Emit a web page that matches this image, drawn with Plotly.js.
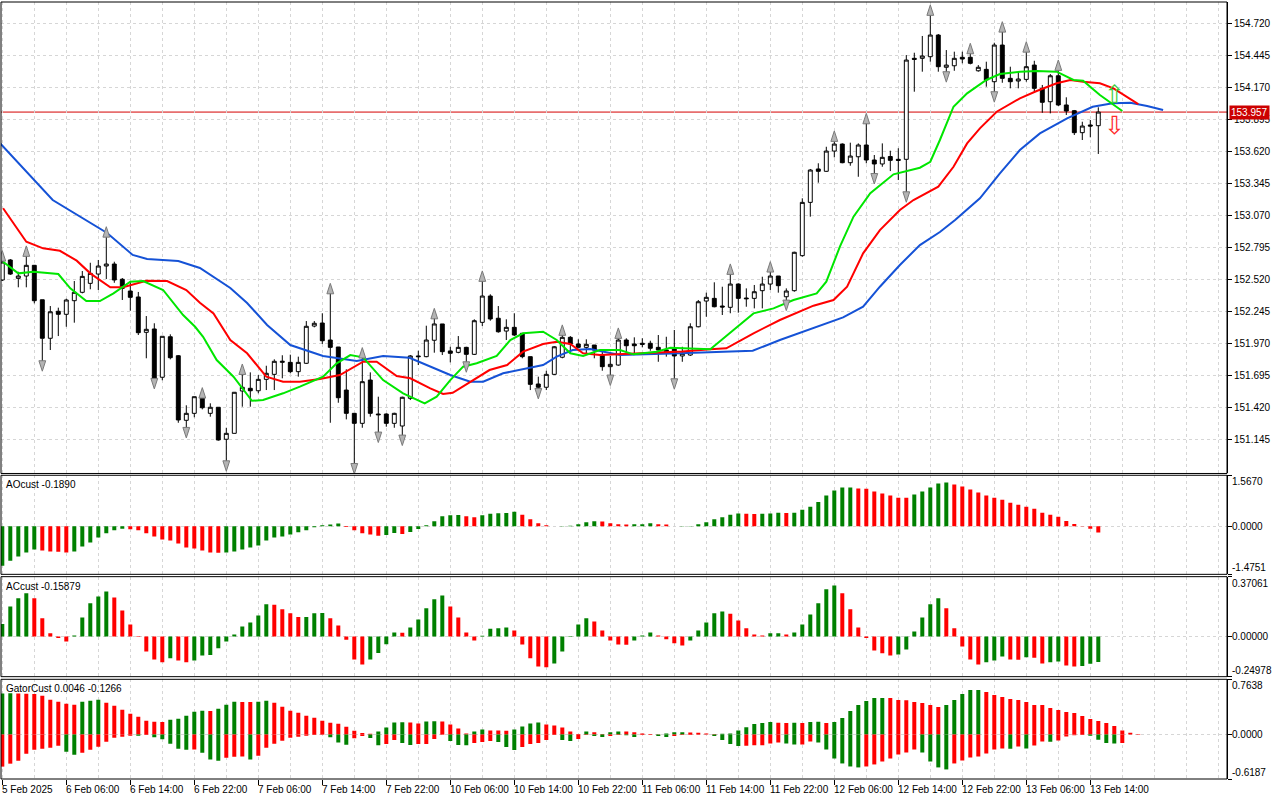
<!DOCTYPE html>
<html><head><meta charset="utf-8">
<script src="https://cdn.plot.ly/plotly-3.0.1.min.js"></script>
<style>html,body{margin:0;padding:0;background:#fff;}#chart{width:1280px;height:800px;}</style>
</head><body><div id="chart"></div>
<script>
// ---- candles (H1 bars, index 0 = 5 Feb 22:00) ----
const openP = [152.514,152.686,152.528,152.548,152.640,152.344,152.013,152.245,152.219,152.336,
152.408,152.485,152.565,152.634,152.651,152.520,152.419,152.368,152.064,152.093,
151.678,152.026,151.863,151.308,151.368,151.511,151.368,151.420,151.145,151.196,
151.560,151.583,151.562,151.660,151.703,151.806,151.806,151.726,151.798,152.118,
152.144,151.998,151.938,151.568,151.368,151.282,151.654,151.362,151.362,151.282,
151.259,151.497,151.861,151.855,151.996,152.136,151.904,151.892,151.935,151.875,
152.150,152.376,152.185,152.075,152.107,152.056,151.855,151.620,151.592,151.703,
151.850,152.021,151.964,151.935,151.955,151.869,151.769,151.783,151.998,151.964,
151.970,151.970,151.935,151.912,151.927,151.861,151.869,152.112,152.333,152.356,
152.290,152.279,152.479,152.359,152.356,152.422,152.479,152.548,152.370,152.422,
152.723,153.181,153.468,153.448,153.622,153.682,153.522,153.573,153.674,153.545,
153.511,153.575,153.551,153.551,154.419,154.419,154.433,154.619,154.342,154.355,
154.428,154.428,154.312,154.324,154.218,154.533,154.247,154.224,154.238,154.361,
154.161,154.046,154.269,154.018,153.969,153.780,153.846,153.840];
const highP = [152.694,152.694,152.585,152.735,152.643,152.344,152.290,152.276,152.353,152.505,
152.591,152.662,152.686,152.900,152.671,152.531,152.499,152.411,152.204,152.142,
152.030,152.047,151.869,151.437,151.511,151.517,151.454,151.420,151.244,151.551,
151.720,151.720,151.697,151.777,151.832,151.867,151.872,151.855,152.161,152.161,
152.228,152.413,151.938,151.746,151.368,151.861,151.720,151.511,151.368,151.373,
151.511,151.869,151.906,152.121,152.198,152.136,151.940,152.032,151.940,152.176,
152.520,152.391,152.290,152.176,152.228,152.056,151.855,151.683,151.734,151.946,
152.056,152.032,152.004,152.004,151.955,151.898,151.861,152.030,152.013,152.021,
152.013,151.992,152.041,152.026,152.084,151.940,152.142,152.342,152.405,152.494,
152.456,152.580,152.485,152.442,152.471,152.542,152.600,152.548,152.442,152.757,
153.216,153.468,153.517,153.659,153.723,153.688,153.694,153.688,153.874,153.588,
153.688,153.625,153.646,154.447,154.467,154.611,154.806,154.628,154.490,154.476,
154.476,154.476,154.361,154.390,154.553,154.662,154.347,154.304,154.490,154.398,
154.190,154.284,154.333,154.084,153.975,153.874,153.889,153.998];
const lowP = [152.505,152.557,152.451,152.451,152.313,151.792,151.912,152.032,152.112,152.147,
152.399,152.434,152.428,152.522,152.490,152.342,152.250,152.041,151.841,151.640,
151.652,151.832,151.287,151.219,151.334,151.402,151.339,151.133,150.932,151.196,
151.425,151.425,151.540,151.568,151.568,151.669,151.712,151.683,151.792,152.107,
151.964,151.287,151.459,151.316,150.909,151.244,151.339,151.179,151.253,151.244,
151.153,151.482,151.783,151.850,151.889,151.869,151.806,151.884,151.783,151.869,
152.118,152.164,152.061,151.998,152.032,151.841,151.568,151.554,151.568,151.697,
151.841,151.884,151.927,151.884,151.841,151.734,151.669,151.777,151.869,151.869,
151.935,151.906,151.811,151.855,151.637,151.811,151.861,152.107,152.198,152.279,
152.213,152.228,152.233,152.284,152.270,152.270,152.428,152.405,152.313,152.413,
152.714,153.058,153.350,153.444,153.568,153.517,153.496,153.401,153.517,153.401,
153.487,153.450,153.373,153.244,154.132,154.304,154.390,154.304,154.276,154.312,
154.376,154.367,154.304,154.175,154.104,154.209,154.161,154.161,154.218,154.132,
153.951,153.946,154.009,153.932,153.760,153.717,153.740,153.597];
const closeP = [152.668,152.565,152.548,152.640,152.336,152.013,152.241,152.219,152.342,152.408,
152.545,152.571,152.634,152.651,152.514,152.442,152.365,152.061,152.090,151.663,
152.030,151.846,151.311,151.368,151.511,151.416,151.420,151.139,151.196,151.549,
151.592,151.562,151.660,151.712,151.815,151.815,151.726,151.806,152.116,152.142,
151.992,151.935,151.502,151.368,151.282,151.640,151.368,151.356,151.282,151.368,
151.506,151.861,151.855,151.998,152.136,151.898,151.884,151.935,151.875,152.164,
152.376,152.179,152.069,152.107,152.041,151.855,151.617,151.592,151.703,151.940,
152.021,151.964,151.935,151.961,151.912,151.769,151.789,151.998,151.949,151.949,
151.961,151.927,151.912,151.898,151.861,151.884,152.112,152.327,152.365,152.284,
152.282,152.479,152.356,152.353,152.413,152.479,152.548,152.465,152.419,152.752,
153.181,153.459,153.448,153.622,153.682,153.522,153.579,153.674,153.545,153.511,
153.568,153.542,153.542,154.404,154.410,154.439,154.619,154.347,154.361,154.419,
154.413,154.376,154.342,154.233,154.533,154.247,154.218,154.241,154.347,154.161,
154.041,154.269,154.018,153.966,153.780,153.837,153.837,153.957];

// ---- Alligator lines (bar position, price) ----
const jawBar = [-0.3,6.3,13.1,16.3,18.1,22,24.7,28.5,30.6,33.1,36,40.1,44.3,47.6,50.9,53.5,56,58.5,60.1,62.6,65.9,67.6,69.3,71.3,73.5,77.2,84.7,93.8,97.2,101.3,105.1,107.6,109.7,112.2,114.7,117.2,119.1,122.2,124.7,127.2,129.7,133.1,136.3,138.8,141,143.1,145.1];
const jawVal = [153.691,153.201,152.918,152.729,152.694,152.677,152.617,152.445,152.316,152.127,151.955,151.861,151.818,151.861,151.846,151.769,151.697,151.640,151.640,151.712,151.755,151.783,151.855,151.912,151.921,151.869,151.884,151.906,151.998,152.099,152.193,152.284,152.456,152.643,152.814,152.926,153.029,153.216,153.431,153.631,153.774,153.903,154.003,154.032,154.037,154.009,153.975];
const teethBar = [0.1,3,5.1,7.2,9.3,11,13.5,15.1,18,20.6,23,24.7,26.4,28.5,30.6,33,35.1,37.2,39.7,42.2,45.1,46.8,49.3,51,53.5,55.1,56.3,58.5,60.9,63.1,65.1,67.6,69.3,71,72.6,74.7,80.9,85,88.5,90.5,93.9,97.2,101.4,103.9,105.6,107.6,109.7,112.2,113.9,117,118.9,120.6,122.2,124.3,127.2,129.3,131.8,133.5,135.1,137.2,138.9,140.5,142];
const teethVal = [153.130,152.843,152.786,152.765,152.680,152.571,152.451,152.451,152.508,152.505,152.428,152.319,152.227,151.998,151.884,151.683,151.640,151.640,151.663,151.697,151.812,151.812,151.689,151.669,151.583,151.534,151.545,151.640,151.740,151.783,151.898,151.964,151.983,151.964,151.884,151.869,151.886,151.900,151.918,151.927,152.056,152.170,152.293,152.342,152.456,152.743,152.943,153.115,153.201,153.316,153.487,153.688,153.817,153.960,154.075,154.138,154.204,154.233,154.218,154.204,154.161,154.089,154.026];
const lipsBar = [0.1,2,3.9,7,8.5,10.5,12.2,13.9,16,17.6,20.1,22.6,24.1,25.1,26.8,28.9,31.2,32.6,35.1,37.2,40.1,41.8,43.5,45.1,47.6,50.1,52.8,54.3,56,57.6,59.3,61.8,63.5,65.1,67.6,69.3,71,72.6,74.7,77.2,78.9,81.8,83.5,86,88.5,91.4,93.9,96.4,98.9,101.8,103,104.7,106.4,108.5,111.4,114.7,116,117.2,118.9,120.6,123,124.7,127.2,129.3,131.8,133.9,135.1,137.2,138.9,140];
const lipsVal = [152.671,152.571,152.585,152.565,152.442,152.333,152.333,152.399,152.499,152.505,152.428,152.213,152.112,152.026,151.826,151.683,151.476,151.482,151.540,151.597,151.683,151.798,151.869,151.849,151.654,151.540,151.454,151.511,151.654,151.769,151.798,151.861,151.998,152.056,152.069,151.998,151.884,151.861,151.912,151.912,151.875,151.898,151.932,151.927,151.918,152.084,152.227,152.270,152.342,152.399,152.499,152.800,153.058,153.259,153.422,153.479,153.530,153.717,154.003,154.118,154.233,154.284,154.304,154.310,154.304,154.233,154.227,154.104,154.018,153.966];

// ---- Fractals (bar indices) ----
const fractalUp = [0,3,13,25,30,41,45,54,60,70,77,91,96,104,108,116,121,125,128,132];
const fractalDown = [5,19,23,28,44,47,50,58,67,76,84,98,109,113,118,124];

// ---- signal arrows ----
const signalBar = [139];
const signalUpPrice = [154.105];
const signalDownPrice = [153.842];
const lastPrice = 153.957;

// ---- AO / AC / Gator ----
const aoVal = [-1.211,-1.055,-0.931,-0.807,-0.714,-0.745,-0.776,-0.780,-0.807,-0.776,
-0.621,-0.497,-0.341,-0.217,-0.124,-0.072,-0.093,-0.124,-0.217,-0.310,
-0.404,-0.435,-0.528,-0.652,-0.683,-0.745,-0.807,-0.812,-0.807,-0.776,
-0.714,-0.652,-0.590,-0.435,-0.341,-0.310,-0.248,-0.186,-0.124,-0.031,
0.031,0.052,0.083,-0.021,-0.124,-0.217,-0.248,-0.290,-0.270,-0.207,
-0.238,-0.176,-0.083,0.031,0.155,0.310,0.341,0.345,0.310,0.279,
0.341,0.383,0.404,0.408,0.445,0.352,0.217,0.093,0.031,0.005,
0.010,0.015,0.062,0.124,0.155,0.150,0.093,0.062,0.058,0.062,
0.066,0.093,0.062,0.058,0.005,0.008,0.012,0.062,0.124,0.217,
0.279,0.352,0.390,0.383,0.380,0.385,0.390,0.414,0.410,0.418,
0.507,0.600,0.745,0.942,1.097,1.190,1.195,1.159,1.155,1.066,
1.004,0.942,0.880,0.876,0.973,1.066,1.190,1.314,1.345,1.283,
1.221,1.128,1.035,0.942,0.880,0.817,0.724,0.662,0.600,0.538,
0.414,0.352,0.290,0.166,0.072,0.010,-0.072,-0.189];
const acVal = [0.077,0.186,0.236,0.267,0.236,0.112,0.019,-0.010,-0.031,0.006,
0.118,0.205,0.248,0.279,0.242,0.161,0.074,-0.004,-0.093,-0.143,
-0.161,-0.136,-0.149,-0.161,-0.149,-0.118,-0.116,-0.074,-0.031,0.012,
0.062,0.087,0.130,0.199,0.197,0.168,0.143,0.120,0.121,0.143,
0.145,0.112,0.068,-0.021,-0.143,-0.174,-0.143,-0.103,-0.048,0.025,
0.023,0.056,0.105,0.174,0.230,0.254,0.186,0.118,0.025,-0.025,
0.004,0.048,0.050,0.056,0.037,-0.050,-0.136,-0.186,-0.192,-0.168,
-0.093,-0.004,0.074,0.112,0.093,0.037,-0.025,-0.050,-0.052,-0.025,
0.006,0.025,0.006,-0.017,-0.043,-0.056,-0.025,0.037,0.087,0.143,
0.155,0.141,0.099,0.050,0.012,0.006,0.019,0.020,0.012,0.025,
0.074,0.136,0.205,0.292,0.316,0.267,0.168,0.056,-0.010,-0.087,
-0.105,-0.118,-0.112,-0.081,0.031,0.118,0.199,0.236,0.174,0.050,
-0.062,-0.143,-0.174,-0.161,-0.149,-0.124,-0.143,-0.145,-0.130,-0.132,
-0.168,-0.161,-0.155,-0.180,-0.186,-0.183,-0.170,-0.159];
const gatorUp = [0.567,0.570,0.566,0.563,0.560,0.535,0.479,0.452,0.424,0.410,
0.452,0.465,0.479,0.438,0.396,0.341,0.286,0.244,0.189,0.175,
0.172,0.203,0.217,0.258,0.313,0.327,0.325,0.355,0.410,0.452,
0.450,0.448,0.451,0.465,0.438,0.382,0.327,0.300,0.258,0.230,
0.189,0.161,0.147,0.106,0.051,0.020,0.010,0.041,0.097,0.166,
0.168,0.164,0.152,0.180,0.182,0.178,0.138,0.083,0.014,0.041,
0.069,0.055,0.053,0.051,0.069,0.111,0.152,0.166,0.138,0.124,
0.097,0.041,0.005,0.041,0.028,0.004,0.028,0.041,0.039,0.028,
0.014,0.005,0.003,0.014,0.028,0.030,0.026,0.024,0.014,0.004,
0.010,0.014,0.055,0.100,0.145,0.159,0.173,0.160,0.157,0.161,
0.159,0.173,0.175,0.159,0.173,0.228,0.325,0.408,0.463,0.504,
0.506,0.504,0.477,0.475,0.449,0.435,0.408,0.380,0.408,0.477,
0.560,0.615,0.617,0.588,0.546,0.518,0.491,0.477,0.449,0.408,
0.406,0.366,0.339,0.311,0.297,0.256,0.214,0.185,0.159,0.115,
0.055,0.023,0.005];
const gatorDown = [-0.447,-0.406,-0.364,-0.267,-0.212,-0.198,-0.184,-0.157,-0.240,-0.281,
-0.253,-0.212,-0.170,-0.101,-0.046,-0.032,-0.018,-0.020,-0.009,-0.041,
-0.069,-0.129,-0.198,-0.212,-0.210,-0.253,-0.350,-0.364,-0.323,-0.309,
-0.307,-0.350,-0.295,-0.184,-0.129,-0.088,-0.046,-0.032,-0.018,-0.009,
-0.005,-0.041,-0.111,-0.143,-0.055,-0.023,-0.051,-0.152,-0.134,-0.078,
-0.120,-0.147,-0.134,-0.132,-0.064,-0.005,-0.092,-0.147,-0.149,-0.120,
-0.106,-0.092,-0.106,-0.175,-0.217,-0.175,-0.134,-0.120,-0.078,-0.009,
-0.078,-0.092,-0.064,-0.009,-0.023,-0.037,-0.023,-0.009,-0.012,-0.037,
-0.009,-0.005,-0.023,-0.037,-0.023,-0.009,-0.007,-0.005,-0.003,-0.023,
-0.078,-0.134,-0.161,-0.156,-0.152,-0.150,-0.127,-0.113,-0.127,-0.141,
-0.139,-0.099,-0.113,-0.210,-0.334,-0.403,-0.445,-0.458,-0.445,-0.417,
-0.376,-0.334,-0.279,-0.251,-0.210,-0.251,-0.376,-0.458,-0.486,-0.403,
-0.362,-0.320,-0.306,-0.265,-0.210,-0.196,-0.198,-0.168,-0.196,-0.154,
-0.099,-0.101,-0.085,-0.030,-0.012,-0.007,-0.020,-0.075,-0.118,-0.127,
-0.120];

// ---- axes ----
const tickBars = [0,8,16,24,32,40,48,56,64,72,80,88,96,104,112,120,128,136];
const tickLabels = ["5 Feb 2025","6 Feb 06:00","6 Feb 14:00","6 Feb 22:00","7 Feb 06:00","7 Feb 14:00","7 Feb 22:00","10 Feb 06:00","10 Feb 14:00","10 Feb 22:00","11 Feb 06:00","11 Feb 14:00","11 Feb 22:00","12 Feb 06:00","12 Feb 14:00","12 Feb 22:00","13 Feb 06:00","13 Feb 14:00"];
const priceTicks = [151.145,151.420,151.695,151.970,152.245,152.520,152.795,153.070,153.345,153.620,153.895,154.170,154.445,154.720];
const aoScale = [-1.4751, 0, 1.5670];
const acScale = [-0.24978, 0, 0.37061];
const gatorScale = [-0.6187, 0, 0.7638];
const aoTitle = "AOcust -0.1890";
const acTitle = "ACcust -0.15879";
const gatorTitle = "GatorCust 0.0046 -0.1266";

// ---- drawing ----
const GREEN = '#008000', RED = '#ff0000', GRID = '#d6d6d6';
const FONT = '"Liberation Sans", Arial, sans-serif';
const DASH = '3px,3px';
const bars = openP.map((_, i) => i);
function dirColors(v, first, useMag) {
  return v.map((x, i) => {
    if (i === 0) return first;
    const a = useMag ? Math.abs(x) : x, b = useMag ? Math.abs(v[i-1]) : v[i-1];
    return a > b ? GREEN : RED;
  });
}
const idx = arr => arr.map((_, i) => i);

const traces = [
  {type:'candlestick', x:bars, open:openP, high:highP, low:lowP, close:closeP,
   xaxis:'x', yaxis:'y', whiskerwidth:0, hoverinfo:'skip',
   increasing:{line:{color:'#000', width:1}, fillcolor:'#ffffff'},
   decreasing:{line:{color:'#000', width:1}, fillcolor:'#000000'}},
  {type:'scatter', mode:'lines', x:jawBar, y:jawVal, line:{color:'#1552d6', width:2}, xaxis:'x', yaxis:'y', hoverinfo:'skip'},
  {type:'scatter', mode:'lines', x:teethBar, y:teethVal, line:{color:'#ff0000', width:2}, xaxis:'x', yaxis:'y', hoverinfo:'skip'},
  {type:'scatter', mode:'lines', x:lipsBar, y:lipsVal, line:{color:'#00e600', width:2}, xaxis:'x', yaxis:'y', hoverinfo:'skip'},
  {type:'scatter', mode:'markers', x:fractalUp, y:fractalUp.map(i => highP[i] + 0.072),
   marker:{symbol:'arrow', angle:0, size:11, color:'#b4b4b4', line:{color:'#7a7a7a', width:1}}, xaxis:'x', yaxis:'y', hoverinfo:'skip'},
  {type:'scatter', mode:'markers', x:fractalDown, y:fractalDown.map(i => lowP[i] - 0.062),
   marker:{symbol:'arrow', angle:180, size:11, color:'#b4b4b4', line:{color:'#7a7a7a', width:1}}, xaxis:'x', yaxis:'y', hoverinfo:'skip'},
  {type:'bar', x:idx(aoVal), y:aoVal, width:0.5, marker:{color:dirColors(aoVal, GREEN, false), line:{width:0}}, xaxis:'x', yaxis:'y2', hoverinfo:'skip'},
  {type:'bar', x:idx(acVal), y:acVal, width:0.5, marker:{color:dirColors(acVal, GREEN, false), line:{width:0}}, xaxis:'x', yaxis:'y3', hoverinfo:'skip'},
  {type:'bar', x:idx(gatorUp), y:gatorUp, width:0.5, marker:{color:dirColors(gatorUp, GREEN, true), line:{width:0}}, xaxis:'x', yaxis:'y4', hoverinfo:'skip'},
  {type:'bar', x:idx(gatorDown), y:gatorDown, width:0.5, marker:{color:dirColors(gatorDown, RED, true), line:{width:0}}, xaxis:'x', yaxis:'y4', hoverinfo:'skip'}
];

const D = {main:[0.3932,1], ao:[0.2634,0.3909], ac:[0.1317,0.2604], gator:[0,0.1283]};
function indAxis(dom, scale) {
  return {domain:dom, anchor:'x', side:'right', range:[scale[0], scale[2]], tickmode:'array', tickvals:scale,
    showticklabels:false, ticks:'outside', ticklen:4, tickcolor:'#000', showgrid:true, gridcolor:GRID, griddash:DASH,
    zeroline:false, showline:true, linecolor:'#000', fixedrange:true};
}
const annotations = [];
tickBars.forEach((b, k) => annotations.push({x:b, xref:'x', y:0, yref:'paper', xanchor:'left', yanchor:'middle',
  yshift:-10, xshift:-1, text:tickLabels[k], showarrow:false, borderpad:0, font:{family:FONT, size:10, color:'#000'}}));
[[aoTitle, D.ao], [acTitle, D.ac], [gatorTitle, D.gator]].forEach(([t, d]) => annotations.push({
  x:0, xref:'paper', y:d[1], yref:'paper', xanchor:'left', yanchor:'top', xshift:4, yshift:-3,
  text:t, showarrow:false, borderpad:0, font:{family:FONT, size:10, color:'#000'}}));
function scaleLabels(scale, yref, digits) {
  const anch = ['bottom', 'middle', 'top'];
  scale.forEach((v, k) => annotations.push({x:1, xref:'paper', y:v, yref:yref, xanchor:'left', yanchor:anch[k],
    xshift:4, text:v.toFixed(digits), showarrow:false, borderpad:0, font:{family:FONT, size:10, color:'#000'}}));
}
scaleLabels(aoScale, 'y2', 4);
scaleLabels(acScale, 'y3', 5);
scaleLabels(gatorScale, 'y4', 4);
annotations.push({x:1, xref:'paper', y:lastPrice, yref:'y', xanchor:'left', yanchor:'middle', xshift:2,
  text:lastPrice.toFixed(3), showarrow:false, bgcolor:'#cc0000', borderpad:1, font:{family:FONT, size:10, color:'#ffffff'}});
signalBar.forEach((b, k) => {
  annotations.push({x:b, y:signalUpPrice[k], xref:'x', yref:'y', text:'⇧', showarrow:false,
    font:{family:'DejaVu Sans', size:25, color:'#3ccf3c'}});
  annotations.push({x:b, y:signalDownPrice[k], xref:'x', yref:'y', text:'⇩', showarrow:false,
    font:{family:'DejaVu Sans', size:25, color:'#ff2a2a'}});
});

const shapes = [
  {type:'line', xref:'paper', x0:0, x1:1, yref:'y', y0:lastPrice, y1:lastPrice, line:{color:'#d40000', width:1}, layer:'below'}
];
Object.values(D).forEach(d => shapes.push({type:'rect', xref:'paper', yref:'paper', x0:0, x1:1, y0:d[0], y1:d[1],
  line:{color:'#000', width:1}, fillcolor:'rgba(0,0,0,0)', layer:'above'}));

const layout = {
  width:1280, height:800, margin:{l:1, r:53, t:2, b:21}, paper_bgcolor:'#fff', plot_bgcolor:'#fff',
  showlegend:false, hovermode:false, barmode:'overlay', dragmode:false,
  font:{family:FONT, size:10, color:'#000'},
  xaxis:{range:[-0.1625, 153.0875], anchor:'y4', tickmode:'array', tickvals:tickBars, showticklabels:false,
    ticks:'outside', ticklen:5, tickcolor:'#000', showgrid:true, gridcolor:GRID, griddash:DASH,
    minor:{tickmode:'linear', tick0:0, dtick:4, showgrid:true, gridcolor:GRID, griddash:DASH, ticks:''},
    zeroline:false, showline:false, rangeslider:{visible:false}, fixedrange:true},
  yaxis:{domain:D.main, anchor:'x', side:'right', range:[150.851, 154.903], tickmode:'array', tickvals:priceTicks,
    ticktext:priceTicks.map(v => v.toFixed(3)), ticks:'outside', ticklen:4, tickcolor:'#000',
    tickfont:{family:FONT, size:10, color:'#000'}, showgrid:true, gridcolor:GRID, griddash:DASH,
    zeroline:false, showline:true, linecolor:'#000', fixedrange:true},
  yaxis2:indAxis(D.ao, aoScale),
  yaxis3:indAxis(D.ac, acScale),
  yaxis4:indAxis(D.gator, gatorScale),
  annotations:annotations, shapes:shapes
};
Plotly.newPlot('chart', traces, layout, {displayModeBar:false, staticPlot:true});
</script></body></html>
